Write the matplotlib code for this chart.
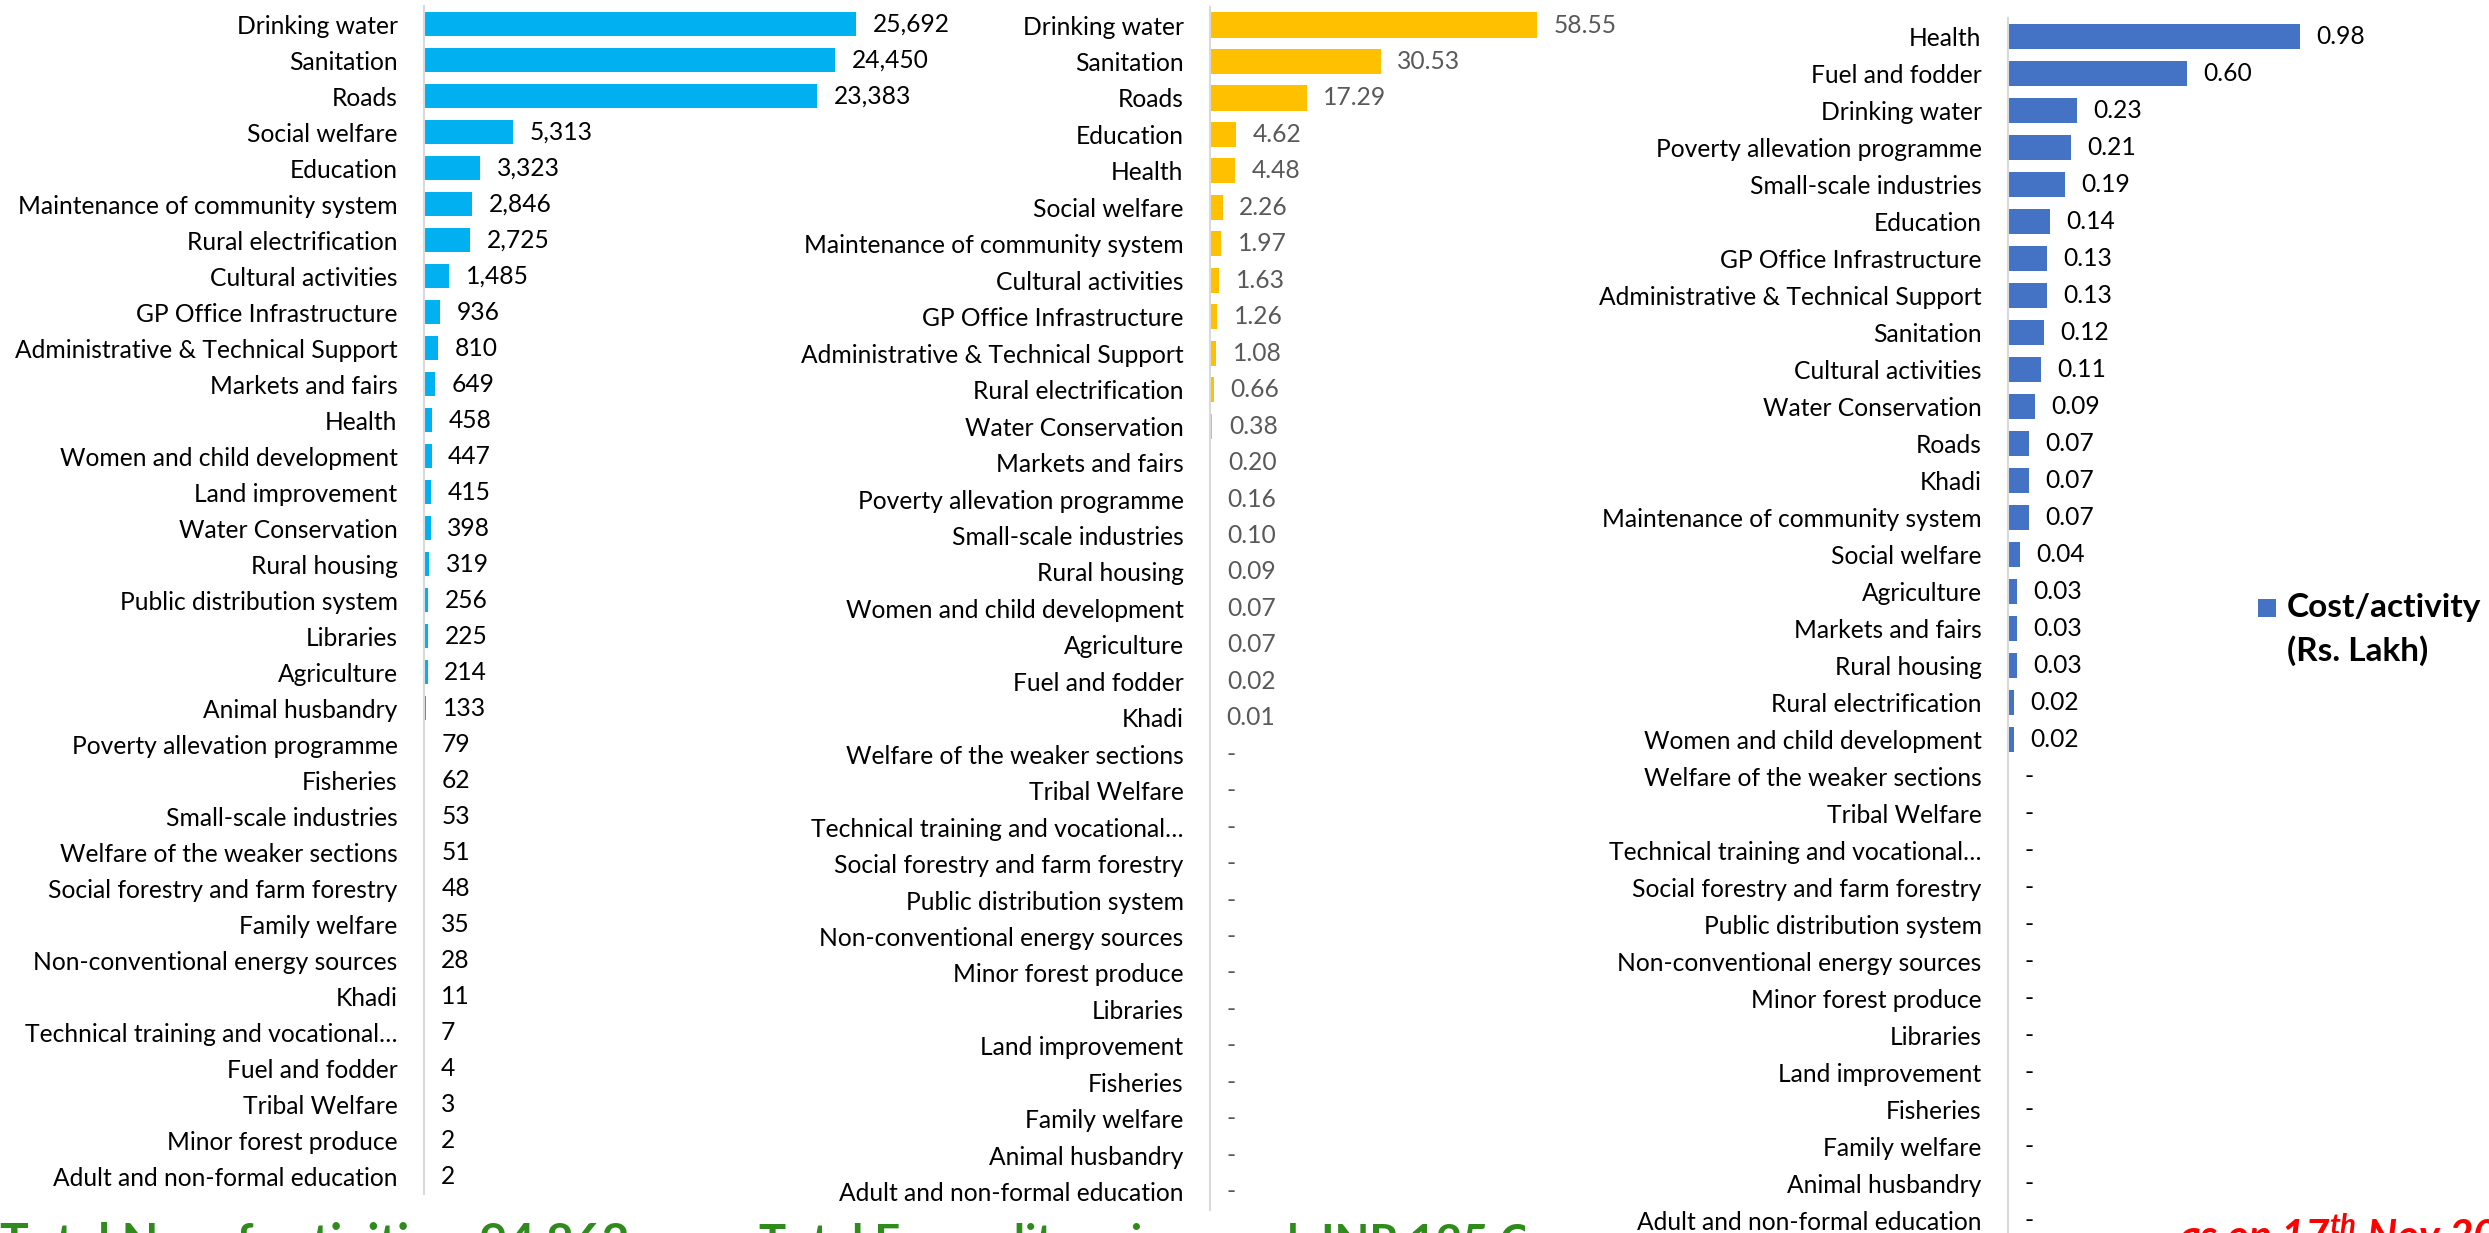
import matplotlib.pyplot as plt
from matplotlib.patches import Rectangle
from matplotlib.transforms import Bbox, TransformedBbox

# Panel 1 - number of activities
act_labels = ['Drinking water', 'Sanitation', 'Roads', 'Social welfare', 'Education',
              'Maintenance of community system', 'Rural electrification', 'Cultural activities',
              'GP Office Infrastructure', 'Administrative & Technical Support', 'Markets and fairs',
              'Health', 'Women and child development', 'Land improvement', 'Water Conservation',
              'Rural housing', 'Public distribution system', 'Libraries', 'Agriculture',
              'Animal husbandry', 'Poverty allevation programme', 'Fisheries', 'Small-scale industries',
              'Welfare of the weaker sections', 'Social forestry and farm forestry', 'Family welfare',
              'Non-conventional energy sources', 'Khadi', 'Technical training and vocational\u2026',
              'Fuel and fodder', 'Tribal Welfare', 'Minor forest produce', 'Adult and non-formal education']
act_counts = [25692, 24450, 23383, 5313, 3323, 2846, 2725, 1485, 936, 810, 649, 458, 447, 415, 398,
              319, 256, 225, 214, 133, 79, 62, 53, 51, 48, 35, 28, 11, 7, 4, 3, 2, 2]

# Panel 2 - expenditure (Rs. Cr)
exp_labels = ['Drinking water', 'Sanitation', 'Roads', 'Education', 'Health', 'Social welfare',
              'Maintenance of community system', 'Cultural activities', 'GP Office Infrastructure',
              'Administrative & Technical Support', 'Rural electrification', 'Water Conservation',
              'Markets and fairs', 'Poverty allevation programme', 'Small-scale industries', 'Rural housing',
              'Women and child development', 'Agriculture', 'Fuel and fodder', 'Khadi',
              'Welfare of the weaker sections', 'Tribal Welfare', 'Technical training and vocational\u2026',
              'Social forestry and farm forestry', 'Public distribution system',
              'Non-conventional energy sources', 'Minor forest produce', 'Libraries', 'Land improvement',
              'Fisheries', 'Family welfare', 'Animal husbandry', 'Adult and non-formal education']
exp_values = [58.55, 30.53, 17.29, 4.62, 4.48, 2.26, 1.97, 1.63, 1.26, 1.08, 0.66, 0.38, 0.20, 0.16,
              0.10, 0.09, 0.07, 0.07, 0.02, 0.01, 0, 0, 0, 0, 0, 0, 0, 0, 0, 0, 0, 0, 0]

# Panel 3 - cost per activity (Rs. Lakh)
cost_labels = ['Health', 'Fuel and fodder', 'Drinking water', 'Poverty allevation programme',
               'Small-scale industries', 'Education', 'GP Office Infrastructure',
               'Administrative & Technical Support', 'Sanitation', 'Cultural activities',
               'Water Conservation', 'Roads', 'Khadi', 'Maintenance of community system', 'Social welfare',
               'Agriculture', 'Markets and fairs', 'Rural housing', 'Rural electrification',
               'Women and child development', 'Welfare of the weaker sections', 'Tribal Welfare',
               'Technical training and vocational\u2026', 'Social forestry and farm forestry',
               'Public distribution system', 'Non-conventional energy sources', 'Minor forest produce',
               'Libraries', 'Land improvement', 'Fisheries', 'Family welfare', 'Animal husbandry',
               'Adult and non-formal education']
cost_values = [0.98, 0.60, 0.23, 0.21, 0.19, 0.14, 0.13, 0.13, 0.12, 0.11, 0.09, 0.07, 0.07, 0.07,
               0.04, 0.03, 0.03, 0.03, 0.02, 0.02, 0, 0, 0, 0, 0, 0, 0, 0, 0, 0, 0, 0, 0]

total_activities = sum(act_counts)
total_expenditure = sum(exp_values)

plt.rcParams['font.family'] = ['Lato', 'DejaVu Sans']
plt.rcParams['mathtext.fontset'] = 'custom'
plt.rcParams['mathtext.it'] = 'Lato:italic:bold'

W, H = 2489, 1233
fig = plt.figure(figsize=(W / 100, H / 100), dpi=100)
renderer = fig.canvas.get_renderer()


def fit_size(text, target_px, **kw):
    # font size that makes the text about target_px wide
    t = fig.text(0, 0, text, fontsize=20, **kw)
    w = t.get_window_extent(renderer).width
    t.remove()
    return 20 * target_px / w


exp_text = f'Total Expenditure incurred: INR {total_expenditure:.0f} Cr'
date_text = r'as on 17$^{th}$ Nov 2022'
label_fs = fit_size('Maintenance of community system', 380)
legend_fs = fit_size('Cost/activity', 194, weight='bold')
footer_fs = fit_size(f'Total No. of activities: {total_activities:,}', 630, weight='bold')
exp_fs = fit_size(exp_text[:-1], 1530 - 759, weight='bold')
date_fs = footer_fs * 0.88


def px_axes(left, top, width, height):
    return fig.add_axes([left / W, 1 - (top + height) / H, width / W, height / H])


def draw_panel(ax, labels, values, color, fmt, value_color):
    n = len(labels)
    ax.barh(range(n), values, height=0.69, color=color)
    ax.set_ylim(n - 0.5, -0.5)
    ax.set_yticks(range(n))
    ax.set_yticklabels(labels, fontsize=label_fs, color='black')
    ax.tick_params(axis='y', length=0, pad=19)
    ax.set_xticks([])
    for s in ['top', 'right', 'bottom']:
        ax.spines[s].set_visible(False)
    ax.spines['left'].set_color('#D9D9D9')
    ax.spines['left'].set_linewidth(1.5)
    ax.patch.set_visible(False)
    for i, v in enumerate(values):
        txt = fmt(v) if v > 0 else '-'
        ax.annotate(txt, (v, i), xytext=(12, 0), textcoords='offset points',
                    va='center', ha='left', fontsize=label_fs, color=value_color)


# px per unit: panel1 0.01681, panel2 5.585, panel3 298
ax1 = px_axes(424, 6, 576, 33 * 36)
draw_panel(ax1, act_labels, act_counts, '#00B0F0', lambda v: f'{v:,}', 'black')
ax1.set_xlim(0, 576 / 0.01681)

ax2 = px_axes(1210, 6.8, 490, 33 * 36.46)
draw_panel(ax2, exp_labels, exp_values, '#FFC000', lambda v: f'{v:.2f}', '#595959')
ax2.set_xlim(0, 490 / 5.585)

ax3 = px_axes(2008, 18, 470, 33 * 37)
draw_panel(ax3, cost_labels, cost_values, '#4472C4', lambda v: f'{v:.2f}', 'black')
ax3.set_xlim(0, 470 / 298)

# legend for the cost panel
fig.patches.append(Rectangle(((2267 - 9) / W, 1 - (608 + 9) / H), 18 / W, 18 / H,
                             transform=fig.transFigure, facecolor='#4472C4', edgecolor='none'))
fig.text(2287 / W, 1 - 608 / H, 'Cost/activity', fontsize=legend_fs, weight='bold', va='center', ha='left')
fig.text(2287 / W, 1 - 651 / H, '(Rs. Lakh)', fontsize=legend_fs, weight='bold', va='center', ha='left')

# footer texts (cut by the image edge)
green = '#2E8B1C'
fig.text(0, 1 - 1257 / H, f'Total No. of activities: {total_activities:,}', fontsize=footer_fs,
         weight='bold', color=green, va='baseline', ha='left')
t2 = fig.text(759 / W, 1 - 1257 / H, exp_text, fontsize=exp_fs, weight='bold', color=green,
              va='baseline', ha='left')
t2.set_clip_box(TransformedBbox(Bbox([[0, 0], [1525 / W, 1]]), fig.transFigure))
t2.set_clip_on(True)
date_base = 1221 + 0.72 * date_fs * 100 / 72
fig.text(2178 / W, 1 - date_base / H, date_text, fontsize=date_fs, weight='bold',
         style='italic', color='#FF0000', va='baseline', ha='left')

fig.savefig('out.png', dpi=100, facecolor='white')
